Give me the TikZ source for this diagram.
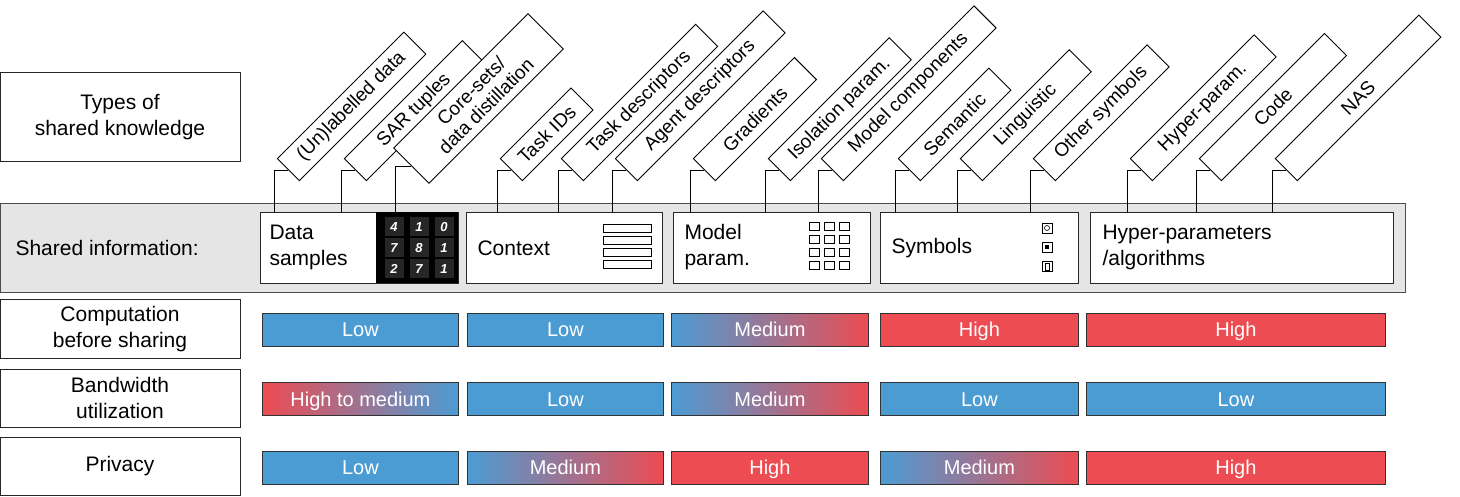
\documentclass[tikz,border=0pt]{standalone}
\usepackage{fontspec}
\setmainfont{Liberation Sans}
\begin{document}
\begin{tikzpicture}[x=1pt,y=-1pt,
  box/.style={draw=black!85,line width=1pt,fill=white},
  lab/.style={draw,line width=0.9pt,fill=white,rotate=45,anchor=west,minimum height=31pt,inner sep=2pt,align=center,font=\fontsize{19}{21}\selectfont},
  bar/.style={draw=black!80,line width=0.8pt,minimum height=33pt,inner sep=0pt,text=white,text height=16pt,text depth=2pt,font=\fontsize{20}{22}\selectfont},
  big/.style={font=\fontsize{21}{26}\selectfont,align=center}]
\definecolor{bl}{RGB}{76,156,212}
\definecolor{rd}{RGB}{236,76,82}
\useasboundingbox (0,0) rectangle (1460,497);
% left boxes
\node[box,minimum width=240pt,minimum height=89pt,big] (types) at (120,117.5) {Types of\\shared knowledge};
\node[draw=black!70,line width=1pt,fill=black!10,minimum width=1405pt,minimum height=89pt,anchor=north west] (band) at (0,203) {};
\node[big,anchor=west] (si) at (12,248) {Shared information:};
\node[box,minimum width=240pt,minimum height=58pt,big] (comp) at (120,329) {Computation\\before sharing};
\node[box,minimum width=240pt,minimum height=58pt,big] (bw) at (120,398) {Bandwidth\\utilization};
\node[box,minimum width=240pt,minimum height=58pt,big] (priv) at (120,466) {Privacy};
% inner boxes
\node[box,minimum width=198pt,minimum height=71pt,anchor=north west] (ds) at (260,212) {};
\node[box,minimum width=196pt,minimum height=71pt,anchor=north west] (ctx) at (466,212) {};
\node[box,minimum width=197pt,minimum height=71pt,anchor=north west] (mp) at (673,212) {};
\node[box,minimum width=198pt,minimum height=71pt,anchor=north west] (sy) at (880,212) {};
\node[box,minimum width=303pt,minimum height=71pt,anchor=north west] (hp) at (1090,212) {};
\node[big,anchor=west,align=left] (dst) at (266,247) {Data\\samples};
\node[big,anchor=west] (ctxt) at (474,248) {Context};
\node[big,anchor=west,align=left] (mpt) at (681,247) {Model\\param.};
\node[big,anchor=west] (syt) at (888,248) {Symbols};
\node[big,anchor=west,align=left] (hpt) at (1099,247) {Hyper-parameters\\/algorithms};
% data icon
\fill[black] (376,212) rectangle (458,283);
\foreach \d [count=\i from 0] in {4,1,0,7,8,1,2,7,1}{
  \pgfmathtruncatemacro{\c}{mod(\i,3)}\pgfmathtruncatemacro{\r}{div(\i,3)}
  \node[fill=black!85,minimum size=19pt,inner sep=0pt,text=white,font=\bfseries\itshape\fontsize{13}{13}\selectfont] (dg\i) at (394+\c*25,227+\r*21) {\d};}
% context icon
\foreach \j in {0,1,2,3}{\draw[line width=0.8pt] (603,224+\j*12) rectangle (651,232+\j*12);}
% model icon
\foreach \r in {0,...,3}{\foreach \c in {0,1,2}{\draw[line width=0.8pt] (809+\c*15,222+\r*13) rectangle (819+\c*15,230+\r*13);}}
% symbols icon
\foreach \r in {0,1,2}{\draw[line width=0.8pt] (1042,223+\r*19) rectangle (1052,233+\r*19);}
\draw[line width=0.6pt] (1047,228) circle (2.5pt);
\fill (1045,245) rectangle (1049,249);
\draw[line width=0.6pt] (1045,263) rectangle (1049,270);
% labels
\foreach \n/\x/\L/\t [count=\k] in {
 a/274/179/(Un)labelled data, b/341/167/SAR tuples, d/497/100/Task IDs,
 e/558/190/Task descriptors, f/612/209/Agent descriptors, g/690/143/Gradients,
 h/765/171/Isolation param., i/818/216/Model components, j/895/128/Semantic,
 k/957/154/Linguistic, l/1030/161/Other symbols, m/1127/175/Hyper-param.,
 n/1196/177/Code, o/1272/203/NAS}{
 \node[lab,minimum width=\L pt] (l\n) at (\x+14,170) {\t};
 \draw[line width=0.9pt] (\x,212) |- (l\n.west);}
\node[lab,minimum width=190pt,minimum height=50pt] (lc) at (411,166) {Core-sets/\\data distillation};
\draw[line width=0.9pt] (395,212) |- (lc.west);
% bars
\tikzset{mybar/.style args={#1/#2/#3}{bar,minimum width=#1pt,left color=#2,right color=#3,anchor=west}}
\node[mybar=196/bl/bl] (c1) at (262,329.5) {Low};
\node[mybar=196/bl/bl] (c2) at (467,329.5) {Low};
\node[mybar=197/bl/rd] (c3) at (671,329.5) {Medium};
\node[mybar=198/rd/rd] (c4) at (880,329.5) {High};
\node[mybar=299/rd/rd] (c5) at (1086,329.5) {High};
\node[mybar=196/rd/bl] (b1) at (262,399) {High to medium};
\node[mybar=196/bl/bl] (b2) at (467,399) {Low};
\node[mybar=197/bl/rd] (b3) at (671,399) {Medium};
\node[mybar=198/bl/bl] (b4) at (880,399) {Low};
\node[mybar=299/bl/bl] (b5) at (1086,399) {Low};
\node[mybar=196/bl/bl] (p1) at (262,467.5) {Low};
\node[mybar=196/bl/rd] (p2) at (467,467.5) {Medium};
\node[mybar=197/rd/rd] (p3) at (671,467.5) {High};
\node[mybar=198/bl/rd] (p4) at (880,467.5) {Medium};
\node[mybar=299/rd/rd] (p5) at (1086,467.5) {High};
\end{tikzpicture}
\end{document}
